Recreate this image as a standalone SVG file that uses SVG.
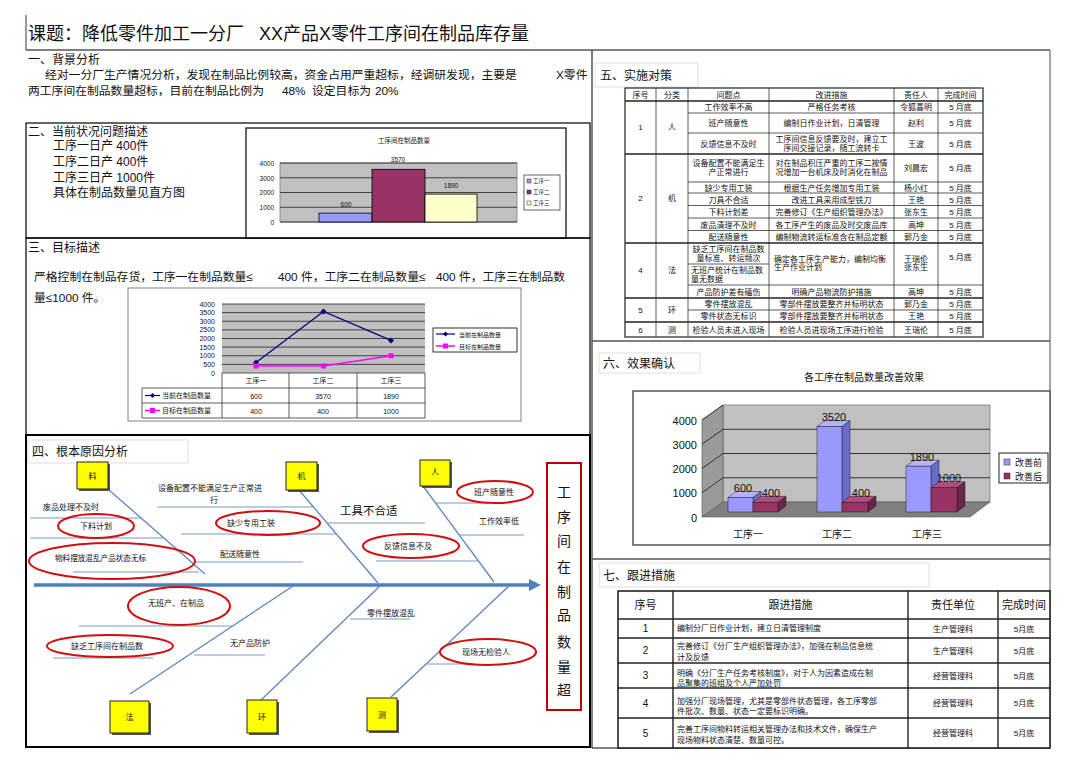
<svg xmlns="http://www.w3.org/2000/svg" width="1080" height="763" viewBox="0 0 1080 763">
<defs>
<style>
text{font-family:"Liberation Sans","Noto Sans CJK SC",sans-serif;fill:#111}
.t12{font-size:12px}
.t11{font-size:11px}
.t10{font-size:10px}
.t8{font-size:8px}
.t7{font-size:7px}
.c{text-anchor:middle}
.r{text-anchor:end}
.box{fill:none;stroke:#000;stroke-width:1.2}
.hd{fill:#fff;stroke:#d8d8d8;stroke-width:0.8}
.bone{stroke:#5a87c0;stroke-width:1.3;fill:none}
.sub{stroke:#7a9cc8;stroke-width:1.2}
.ell{fill:none;stroke:#d01010;stroke-width:2}
.ybox{fill:#ffff00;stroke:#222;stroke-width:1}
.ysh{fill:#555}
.tl{stroke:#333;stroke-width:0.8}
.tg{stroke:#222;stroke-width:1.4}
.grid{stroke:#222;stroke-width:0.8}
</style>
<marker id="ah" viewBox="0 0 12 12" refX="2" refY="6" markerWidth="12" markerHeight="12" markerUnits="userSpaceOnUse" orient="auto">
<path d="M0,0 L12,6 L0,12 z" fill="#4f81bd"/>
</marker>
</defs>
<rect width="1080" height="763" fill="#fff"/>

<g id="title">
<line x1="26" y1="15" x2="26" y2="50" stroke="#555" stroke-width="1.2"/>
<line x1="26" y1="50" x2="1050" y2="50" stroke="#555" stroke-width="1.5"/>
<text x="28" y="40" style="font-size:18px">课题：降低零件加工一分厂</text>
<text x="259" y="40" style="font-size:18px">XX产品X零件工序间在制品库存量</text>
</g>

<g id="sec1">
<text x="28" y="64" class="t12">一、背景分析</text>
<text x="45" y="79" style="font-size:11.8px">经对一分厂生产情况分析，发现在制品比例较高，资金占用严重超标，经调研发现，主要是</text>
<text x="556" y="79" style="font-size:11.8px">X零件</text>
<text x="28" y="95" style="font-size:11.8px">两工序间在制品数量超标，目前在制品比例为</text>
<text x="282" y="95" style="font-size:11.8px">48%</text>
<text x="312" y="95" style="font-size:11.8px">设定目标为</text>
<text x="375" y="95" style="font-size:11.8px">20%</text>
</g>

<g id="sec2">
<rect x="26" y="123" width="564" height="115" class="box"/>
<text x="28" y="136" class="t12">二、当前状况问题描述</text>
<text x="53" y="150" class="t12">工序一日产 400件</text>
<text x="53" y="166" class="t12">工序二日产 400件</text>
<text x="53" y="182" class="t12">工序三日产 1000件</text>
<text x="53" y="197" class="t12">具体在制品数量见直方图</text>
<g id="chart1">
<rect x="246" y="128" width="320" height="110" fill="#fff" stroke="#000" stroke-width="1.2"/>
<text x="404" y="143" class="c" style="font-size:6.5px">工序间在制品数量</text>
<rect x="280" y="163" width="237" height="59" fill="#c0c0c0" stroke="#808080" stroke-width="0.8"/>
<line x1="280" y1="163" x2="517" y2="163" class="grid"/>
<line x1="280" y1="177.75" x2="517" y2="177.75" class="grid"/>
<line x1="280" y1="192.5" x2="517" y2="192.5" class="grid"/>
<line x1="280" y1="207.25" x2="517" y2="207.25" class="grid"/>
<line x1="280" y1="222" x2="517" y2="222" class="grid"/>
<text x="274" y="166" class="r" style="font-size:6.5px">4000</text>
<text x="274" y="180.5" class="r" style="font-size:6.5px">3000</text>
<text x="274" y="195" class="r" style="font-size:6.5px">2000</text>
<text x="274" y="210" class="r" style="font-size:6.5px">1000</text>
<text x="274" y="225" class="r" style="font-size:6.5px">0</text>
<rect x="319" y="213.1" width="53" height="8.9" fill="#9999ff" stroke="#000" stroke-width="0.8"/>
<rect x="372" y="169.3" width="53" height="52.7" fill="#993366" stroke="#000" stroke-width="0.8"/>
<rect x="425" y="194.1" width="52" height="27.9" fill="#ffffcc" stroke="#000" stroke-width="0.8"/>
<text x="346" y="207" class="c" style="font-size:6.5px">600</text>
<text x="398" y="162" class="c" style="font-size:6.5px">3570</text>
<text x="451" y="188" class="c" style="font-size:6.5px">1890</text>
<rect x="524" y="175" width="36" height="35" fill="#fff" stroke="#000" stroke-width="0.6"/>
<rect x="527" y="179" width="4" height="4" fill="#9999ff" stroke="#000" stroke-width="0.4"/>
<rect x="527" y="190" width="4" height="4" fill="#993366" stroke="#000" stroke-width="0.4"/>
<rect x="527" y="201" width="4" height="4" fill="#ffffcc" stroke="#000" stroke-width="0.4"/>
<text x="533" y="183" style="font-size:5.5px">工序一</text>
<text x="533" y="194" style="font-size:5.5px">工序二</text>
<text x="533" y="205" style="font-size:5.5px">工序三</text>
</g>
</g>

<g id="sec3">
<rect x="26" y="238" width="564" height="197" class="box"/>
<text x="28" y="252" class="t12">三、目标描述</text>
<text x="34" y="281" style="font-size:11.8px">严格控制在制品存货，工序一在制品数量≤</text>
<text x="278" y="281" style="font-size:11.8px">400 件，工序二在制品数量≤</text>
<text x="436" y="281" style="font-size:11.8px">400 件，工序三在制品数</text>
<text x="34" y="302" style="font-size:11.8px">量≤1000 件。</text>
<g id="chart2">
<rect x="128" y="288" width="393" height="133" fill="#fff" stroke="#808080" stroke-width="1"/>
<rect x="222" y="304" width="203" height="69" fill="#c0c0c0"/>
<g class="grid">
<line x1="222" y1="304" x2="425" y2="304"/>
<line x1="222" y1="312.6" x2="425" y2="312.6"/>
<line x1="222" y1="321.25" x2="425" y2="321.25"/>
<line x1="222" y1="329.9" x2="425" y2="329.9"/>
<line x1="222" y1="338.5" x2="425" y2="338.5"/>
<line x1="222" y1="347.1" x2="425" y2="347.1"/>
<line x1="222" y1="355.75" x2="425" y2="355.75"/>
<line x1="222" y1="364.4" x2="425" y2="364.4"/>
</g>
<text x="215" y="306.5" class="r" style="font-size:7px">4000</text>
<text x="215" y="315" class="r" style="font-size:7px">3500</text>
<text x="215" y="323.7" class="r" style="font-size:7px">3000</text>
<text x="215" y="332.4" class="r" style="font-size:7px">2500</text>
<text x="215" y="341" class="r" style="font-size:7px">2000</text>
<text x="215" y="349.6" class="r" style="font-size:7px">1500</text>
<text x="215" y="358.2" class="r" style="font-size:7px">1000</text>
<text x="215" y="366.9" class="r" style="font-size:7px">500</text>
<text x="215" y="375.5" class="r" style="font-size:7px">0</text>
<polyline points="256,362.6 323.5,311.4 391,340.4" fill="none" stroke="#000080" stroke-width="1.2"/>
<polyline points="256,366.1 323.5,366.1 391,355.75" fill="none" stroke="#ff00ff" stroke-width="1.5"/>
<path d="M256,359.6 l3,3 l-3,3 l-3,-3 z M323.5,308.4 l3,3 l-3,3 l-3,-3 z M391,337.4 l3,3 l-3,3 l-3,-3 z" fill="#000080"/>
<path d="M253.5,363.6 h5 v5 h-5 z M321,363.6 h5 v5 h-5 z M388.5,353.25 h5 v5 h-5 z" fill="#ff00ff"/>
<g class="tl">
<line x1="222" y1="373" x2="425" y2="373"/>
<line x1="142" y1="388" x2="425" y2="388"/>
<line x1="142" y1="403" x2="425" y2="403"/>
<line x1="142" y1="418" x2="425" y2="418"/>
<line x1="142" y1="388" x2="142" y2="418"/>
<line x1="222" y1="373" x2="222" y2="418"/>
<line x1="289" y1="373" x2="289" y2="418"/>
<line x1="357" y1="373" x2="357" y2="418"/>
<line x1="425" y1="373" x2="425" y2="418"/>
</g>
<text x="256" y="383" class="c t7">工序一</text>
<text x="323" y="383" class="c t7">工序二</text>
<text x="391" y="383" class="c t7">工序三</text>
<line x1="145" y1="395.5" x2="160" y2="395.5" stroke="#000080" stroke-width="1.2"/>
<path d="M152.5,393 l2.5,2.5 l-2.5,2.5 l-2.5,-2.5 z" fill="#000080"/>
<text x="162" y="398" class="t7">当前在制品数量</text>
<line x1="145" y1="410.5" x2="160" y2="410.5" stroke="#ff00ff" stroke-width="1.5"/>
<rect x="150" y="408" width="5" height="5" fill="#ff00ff"/>
<text x="162" y="413" class="t7">目标在制品数量</text>
<text x="256" y="398.5" class="c t7">600</text>
<text x="323" y="398.5" class="c t7">3570</text>
<text x="391" y="398.5" class="c t7">1890</text>
<text x="256" y="413.5" class="c t7">400</text>
<text x="323" y="413.5" class="c t7">400</text>
<text x="391" y="413.5" class="c t7">1000</text>
<rect x="433" y="328" width="84" height="24" fill="#fff" stroke="#000" stroke-width="0.8"/>
<line x1="436" y1="334" x2="455" y2="334" stroke="#000080" stroke-width="1.2"/>
<path d="M445.5,331.5 l2.5,2.5 l-2.5,2.5 l-2.5,-2.5 z" fill="#000080"/>
<text x="459" y="336.5" style="font-size:6px">当前在制品数量</text>
<line x1="436" y1="346" x2="455" y2="346" stroke="#ff00ff" stroke-width="1.5"/>
<rect x="443" y="343.5" width="5" height="5" fill="#ff00ff"/>
<text x="459" y="348.5" style="font-size:6px">目标在制品数量</text>
</g>
</g>

<g id="sec4">
<rect x="26" y="435" width="564" height="312" fill="none" stroke="#000" stroke-width="2"/>
<rect x="28" y="440" width="160" height="23" class="hd"/>
<text x="32" y="456" class="t12">四、根本原因分析</text>
</g>

<g id="connectors">
<line x1="34" y1="585" x2="531" y2="585" stroke="#4f81bd" stroke-width="3.5" marker-end="url(#ah)"/>
<line x1="109" y1="490" x2="205" y2="574" class="bone"/>
<line x1="299" y1="490" x2="378" y2="583" class="bone"/>
<line x1="423" y1="486" x2="494" y2="582" class="bone"/>
<line x1="130" y1="694" x2="293" y2="586" class="bone"/>
<line x1="261" y1="700" x2="380" y2="586" class="bone"/>
<line x1="391" y1="697" x2="509" y2="586" class="bone"/>
<g class="sub">
<line x1="30" y1="518" x2="141" y2="518"/>
<line x1="30" y1="538" x2="164" y2="538"/>
<line x1="73" y1="572" x2="199" y2="572"/>
<line x1="157" y1="507" x2="313" y2="507"/>
<line x1="181" y1="534" x2="336" y2="534"/>
<line x1="195" y1="562" x2="303" y2="562"/>
<line x1="327" y1="523" x2="425" y2="523"/>
<line x1="436" y1="503" x2="489" y2="503"/>
<line x1="459" y1="535" x2="524" y2="535"/>
<line x1="376" y1="561" x2="479" y2="561"/>
<line x1="79" y1="626" x2="232" y2="626"/>
<line x1="53" y1="658" x2="153" y2="658"/>
<line x1="194" y1="655" x2="265" y2="655"/>
<line x1="350" y1="619" x2="410" y2="619"/>
<line x1="427" y1="664" x2="473" y2="664"/>
</g>
</g>

<g id="node-liao"><rect x="79" y="464" width="31" height="27" class="ysh"/><rect x="77" y="462" width="31" height="27" class="ybox"/><text x="92.5" y="479" class="c t8">料</text></g>
<g id="node-ji"><rect x="288" y="464" width="31" height="28" class="ysh"/><rect x="286" y="462" width="31" height="28" class="ybox"/><text x="301.5" y="479" class="c t8">机</text></g>
<g id="node-ren"><rect x="422" y="462" width="30" height="26" class="ysh"/><rect x="420" y="460" width="30" height="26" class="ybox"/><text x="435" y="475" class="c t8">人</text></g>
<g id="node-fa"><rect x="112" y="703" width="39" height="32" class="ysh"/><rect x="110" y="701" width="39" height="32" class="ybox"/><text x="129.5" y="720" class="c t8">法</text></g>
<g id="node-huan"><rect x="249" y="702" width="30" height="33" class="ysh"/><rect x="247" y="700" width="30" height="33" class="ybox"/><text x="262" y="720" class="c t8">环</text></g>
<g id="node-ce"><rect x="369" y="700" width="30" height="33" class="ysh"/><rect x="367" y="698" width="30" height="33" class="ybox"/><text x="382" y="718" class="c t8">测</text></g>

<g id="node-effect">
<rect x="547" y="463" width="34" height="247" fill="#fff" stroke="#c00000" stroke-width="2"/>
<text x="564" y="497" class="c" style="font-size:14px">工</text>
<text x="564" y="522" class="c" style="font-size:14px">序</text>
<text x="564" y="546" class="c" style="font-size:14px">间</text>
<text x="564" y="572" class="c" style="font-size:14px">在</text>
<text x="564" y="597" class="c" style="font-size:14px">制</text>
<text x="564" y="620" class="c" style="font-size:14px">品</text>
<text x="564" y="647" class="c" style="font-size:14px">数</text>
<text x="564" y="672" class="c" style="font-size:14px">量</text>
<text x="564" y="695" class="c" style="font-size:14px">超</text>
</g>

<g id="causes">
<text x="43" y="510" class="t8">废品处理不及时</text>
<g id="c-xialiao"><ellipse cx="96" cy="526" rx="38" ry="12" class="ell"/><text x="96" y="529" class="c t8">下料计划</text></g>
<g id="c-wuliao"><ellipse cx="112" cy="561" rx="83" ry="18" class="ell"/><text x="55" y="561" style="font-size:7.6px">物料摆放混乱产品状态无标</text></g>
<text x="158" y="491" class="t8">设备配置不能满足生产正常进</text>
<text x="210" y="503" class="t8">行</text>
<g id="c-quegz"><ellipse cx="268" cy="523" rx="52" ry="12" class="ell"/><text x="227" y="526" class="t8">缺少专用工装</text></g>
<text x="220" y="557" class="t8">配送随意性</text>
<text x="340" y="515" style="font-size:11.5px">工具不合适</text>
<g id="c-banchan"><ellipse cx="495" cy="492" rx="38" ry="11" class="ell"/><text x="474" y="495" class="t8">班产随意性</text></g>
<text x="479" y="524" class="t8">工作效率低</text>
<g id="c-fankui"><ellipse cx="411" cy="546" rx="48" ry="12" class="ell"/><text x="384" y="549" class="t8">反馈信息不及</text></g>
<g id="c-wubc"><ellipse cx="179" cy="606" rx="51" ry="19" class="ell"/><text x="148" y="606" class="t8">无班产、在制品</text></g>
<g id="c-quefa"><ellipse cx="110" cy="646" rx="63" ry="11" class="ell"/><text x="71" y="649" class="t8">缺乏工序间在制品数</text></g>
<text x="230" y="646" class="t8">无产品防护</text>
<text x="367" y="616" class="t8">零件摆放混乱</text>
<g id="c-xianchang"><ellipse cx="488" cy="652" rx="48" ry="13" class="ell"/><text x="462" y="655" class="t8">现场无检验人</text></g>
</g>

<g id="rightframe">
<line x1="592" y1="50" x2="592" y2="748" stroke="#555" stroke-width="1.5"/>
<line x1="1050" y1="50" x2="1050" y2="748" stroke="#888" stroke-width="1.5"/>
<line x1="592" y1="341" x2="1050" y2="341" stroke="#555" stroke-width="1.5"/>
<line x1="592" y1="559" x2="1050" y2="559" stroke="#555" stroke-width="1.5"/>
<line x1="592" y1="748" x2="1050" y2="748" stroke="#555" stroke-width="1.5"/>
</g>

<g id="sec5">
<rect x="595" y="63" width="103" height="24" class="hd"/>
<text x="600" y="80" class="t12">五、实施对策</text>
<g id="table5">
<rect x="625" y="88" width="358" height="249" fill="#fff" stroke="#222" stroke-width="1.2"/>
<g class="tl">
<line x1="656" y1="88" x2="656" y2="337"/>
<line x1="688" y1="88" x2="688" y2="337"/>
<line x1="769" y1="88" x2="769" y2="337"/>
<line x1="894" y1="88" x2="894" y2="337"/>
<line x1="938" y1="88" x2="938" y2="337"/>
<line x1="688" y1="113" x2="983" y2="113"/>
<line x1="688" y1="133" x2="983" y2="133"/>
<line x1="688" y1="182" x2="983" y2="182"/>
<line x1="688" y1="193" x2="983" y2="193"/>
<line x1="688" y1="205.5" x2="983" y2="205.5"/>
<line x1="688" y1="218" x2="983" y2="218"/>
<line x1="688" y1="230.5" x2="983" y2="230.5"/>
<line x1="688" y1="264" x2="769" y2="264"/>
<line x1="688" y1="285" x2="983" y2="285"/>
<line x1="688" y1="310" x2="983" y2="310"/>
</g>
<g class="tg">
<line x1="625" y1="101" x2="983" y2="101"/>
<line x1="625" y1="154" x2="983" y2="154"/>
<line x1="625" y1="243" x2="983" y2="243"/>
<line x1="625" y1="298" x2="983" y2="298"/>
<line x1="625" y1="322" x2="983" y2="322"/>
</g>
<text x="640.5" y="97.5" class="c t8">序号</text>
<text x="672" y="97.5" class="c t8">分类</text>
<text x="728.5" y="97.5" class="c t8">问题点</text>
<text x="831.5" y="97.5" class="c t8">改进措施</text>
<text x="916" y="97.5" class="c t8">责任人</text>
<text x="960.5" y="97.5" class="c t8">完成时间</text>

<text x="640.5" y="130" class="c t8">1</text>
<text x="672" y="130" class="c t8">人</text>
<text x="640.5" y="201" class="c t8">2</text>
<text x="672" y="201" class="c t8">机</text>
<text x="640.5" y="273" class="c t8">4</text>
<text x="672" y="273" class="c t8">法</text>
<text x="640.5" y="313" class="c t8">5</text>
<text x="672" y="313" class="c t8">环</text>
<text x="640.5" y="333" class="c t8">6</text>
<text x="672" y="333" class="c t8">测</text>

<text x="728.5" y="110" class="c t8">工作效率不高</text>
<text x="831.5" y="110" class="c t8">严格任务考核</text>
<text x="916" y="110" class="c t8">令狐喜明</text>
<text x="960.5" y="110" class="c t8">5 月底</text>

<text x="728.5" y="126" class="c t8">班产随意性</text>
<text x="831.5" y="126" class="c t8">编制日作业计划，日清管理</text>
<text x="916" y="126" class="c t8">赵利</text>
<text x="960.5" y="126" class="c t8">5 月底</text>

<text x="728.5" y="146.5" class="c t8">反馈信息不及时</text>
<text x="831.5" y="142" class="c t8">工序间信息反馈要及时，建立工</text>
<text x="831.5" y="151" class="c t8">序间交接记录，随工流转卡</text>
<text x="916" y="146.5" class="c t8">王波</text>
<text x="960.5" y="146.5" class="c t8">5 月底</text>

<text x="728.5" y="166" class="c t8">设备配置不能满足生</text>
<text x="728.5" y="175" class="c t8">产正常进行</text>
<text x="831.5" y="166" class="c t8">对在制品积压严重的工序二按情</text>
<text x="831.5" y="175" class="c t8">况增加一台机床及时消化在制品</text>
<text x="916" y="171" class="c t8">刘晨宏</text>
<text x="960.5" y="171" class="c t8">5 月底</text>

<text x="728.5" y="190.5" class="c t8">缺少专用工装</text>
<text x="831.5" y="190.5" class="c t8">根据生产任务增加专用工装</text>
<text x="916" y="190.5" class="c t8">杨小红</text>
<text x="960.5" y="190.5" class="c t8">5 月底</text>

<text x="728.5" y="202.5" class="c t8">刀具不合适</text>
<text x="831.5" y="202.5" class="c t8">改进工具采用成型铣刀</text>
<text x="916" y="202.5" class="c t8">王艳</text>
<text x="960.5" y="202.5" class="c t8">5 月底</text>

<text x="728.5" y="215" class="c t8">下料计划差</text>
<text x="831.5" y="215" class="c t8">完善修订《生产组织管理办法》</text>
<text x="916" y="215" class="c t8">张东生</text>
<text x="960.5" y="215" class="c t8">5 月底</text>

<text x="728.5" y="227.5" class="c t8">废品清理不及时</text>
<text x="831.5" y="227.5" class="c t8">各工序产生的废品及时交废品库</text>
<text x="916" y="227.5" class="c t8">高坤</text>
<text x="960.5" y="227.5" class="c t8">5 月底</text>

<text x="728.5" y="240" class="c t8">配送随意性</text>
<text x="831.5" y="240" class="c t8">编制物流转运标准含在制品定额</text>
<text x="916" y="240" class="c t8">郭乃金</text>
<text x="960.5" y="240" class="c t8">5 月底</text>

<text x="728.5" y="252" class="c t8">缺乏工序间在制品数</text>
<text x="728.5" y="261" class="c t8">量标准、转运频次</text>
<text x="691" y="273" class="t8">无班产统计在制品数</text>
<text x="691" y="282" class="t8">量无数据</text>
<text x="774" y="262" class="t8">确定各工序生产能力，编制均衡</text>
<text x="774" y="270" class="t8">生产作业计划</text>
<text x="916" y="262" class="c t8">王瑞伦</text>
<text x="916" y="270" class="c t8">张东生</text>
<text x="960.5" y="260" class="c t8">5 月底</text>

<text x="728.5" y="294.5" class="c t8">产品防护差有磕伤</text>
<text x="831.5" y="294.5" class="c t8">明确产品物流防护措施</text>
<text x="916" y="294.5" class="c t8">高坤</text>
<text x="960.5" y="294.5" class="c t8">5 月底</text>

<text x="728.5" y="307" class="c t8">零件摆放混乱</text>
<text x="831.5" y="307" class="c t8">零部件摆放要整齐并标明状态</text>
<text x="916" y="307" class="c t8">郭乃金</text>
<text x="960.5" y="307" class="c t8">5 月底</text>

<text x="728.5" y="319" class="c t8">零件状态无标识</text>
<text x="831.5" y="319" class="c t8">零部件摆放要整齐并标明状态</text>
<text x="916" y="319" class="c t8">王艳</text>
<text x="960.5" y="319" class="c t8">5 月底</text>

<text x="728.5" y="333" class="c t8">检验人员未进入现场</text>
<text x="831.5" y="333" class="c t8">检验人员进现场工序进行检验</text>
<text x="916" y="333" class="c t8">王瑞伦</text>
<text x="960.5" y="333" class="c t8">5 月底</text>
</g>
</g>

<g id="sec6">
<rect x="599" y="353" width="101" height="20" class="hd"/>
<text x="603" y="368" class="t12">六、效果确认</text>
<text x="864" y="381" class="c t10">各工序在制品数量改善效果</text>
<g id="chart6">
<rect x="633" y="391" width="417" height="154" fill="#fff" stroke="#555" stroke-width="1.5"/>
<polygon points="723,405 990,405 990,502 723,502" fill="#c0c0c0" stroke="#555" stroke-width="0.6"/>
<polygon points="702,420 723,405 723,502 702,517" fill="#9a9a9a" stroke="#555" stroke-width="0.6"/>
<polygon points="702,517 723,502 990,502 970,517" fill="#808080" stroke="#555" stroke-width="0.6"/>
<g stroke="#333" stroke-width="1">
<line x1="723" y1="429.25" x2="990" y2="429.25"/>
<line x1="723" y1="453.5" x2="990" y2="453.5"/>
<line x1="723" y1="477.75" x2="990" y2="477.75"/>
<line x1="702" y1="444.25" x2="723" y2="429.25"/>
<line x1="702" y1="468.5" x2="723" y2="453.5"/>
<line x1="702" y1="492.75" x2="723" y2="477.75"/>
<line x1="702" y1="420" x2="723" y2="405"/>
</g>
<text x="697" y="425" class="r t11">4000</text>
<text x="697" y="449" class="r t11">3000</text>
<text x="697" y="473" class="r t11">2000</text>
<text x="697" y="497" class="r t11">1000</text>
<text x="697" y="522" class="r t11">0</text>
<g stroke="#222" stroke-width="0.5">
<polygon points="728,497.5 736,491.5 761,491.5 753,497.5" fill="#b3b3ff"/>
<polygon points="753,497.5 761,491.5 761,506 753,512" fill="#6b6bcc"/>
<rect x="728" y="497.5" width="25" height="14.5" fill="#9999ff"/>
<polygon points="753,502.3 761,496.3 786,496.3 778,502.3" fill="#b34d80"/>
<polygon points="778,502.3 786,496.3 786,506 778,512" fill="#6b2447"/>
<rect x="753" y="502.3" width="25" height="9.7" fill="#993366"/>
<polygon points="817,426.6 825,420.6 850,420.6 842,426.6" fill="#b3b3ff"/>
<polygon points="842,426.6 850,420.6 850,506 842,512" fill="#6b6bcc"/>
<rect x="817" y="426.6" width="25" height="85.4" fill="#9999ff"/>
<polygon points="842,502.3 850,496.3 876,496.3 868,502.3" fill="#b34d80"/>
<polygon points="868,502.3 876,496.3 876,506 868,512" fill="#6b2447"/>
<rect x="842" y="502.3" width="26" height="9.7" fill="#993366"/>
<polygon points="906,466.2 914,460.2 939,460.2 931,466.2" fill="#b3b3ff"/>
<polygon points="931,466.2 939,460.2 939,506 931,512" fill="#6b6bcc"/>
<rect x="906" y="466.2" width="25" height="45.8" fill="#9999ff"/>
<polygon points="931,487.75 939,481.75 965,481.75 957,487.75" fill="#b34d80"/>
<polygon points="957,487.75 965,481.75 965,506 957,512" fill="#6b2447"/>
<rect x="931" y="487.75" width="26" height="24.25" fill="#993366"/>
</g>
<text x="743" y="492" class="c t11">600</text>
<text x="771" y="497" class="c t11">400</text>
<text x="834" y="421" class="c t11">3520</text>
<text x="861" y="497" class="c t11">400</text>
<text x="922" y="461" class="c t11">1890</text>
<text x="949" y="482" class="c t11">1000</text>
<text x="748" y="538" class="c t10">工序一</text>
<text x="837" y="538" class="c t10">工序二</text>
<text x="927" y="538" class="c t10">工序三</text>
<rect x="999" y="453" width="49" height="30" fill="#fff" stroke="#222" stroke-width="1"/>
<rect x="1004" y="459" width="6" height="6" fill="#9999ff" stroke="#222" stroke-width="0.5"/>
<rect x="1004" y="473" width="6" height="6" fill="#993366" stroke="#222" stroke-width="0.5"/>
<text x="1015" y="465.5" style="font-size:9px">改善前</text>
<text x="1015" y="479.5" style="font-size:9px">改善后</text>
</g>
</g>

<g id="sec7">
<rect x="599" y="563" width="330" height="24" class="hd"/>
<text x="603" y="580" class="t12">七、跟进措施</text>
<g id="table7">
<rect x="618" y="591" width="432" height="157" fill="#fff" stroke="#222" stroke-width="1.6"/>
<g stroke="#222" stroke-width="1.4">
<line x1="673" y1="591" x2="673" y2="748"/>
<line x1="908" y1="591" x2="908" y2="748"/>
<line x1="998" y1="591" x2="998" y2="748"/>
<line x1="618" y1="619" x2="1050" y2="619"/>
<line x1="618" y1="638" x2="1050" y2="638"/>
<line x1="618" y1="663" x2="1050" y2="663"/>
<line x1="618" y1="688" x2="1050" y2="688"/>
<line x1="618" y1="718" x2="1050" y2="718"/>
</g>
<text x="645.5" y="609" class="c t11">序号</text>
<text x="790.5" y="609" class="c t11">跟进措施</text>
<text x="953" y="609" class="c t11">责任单位</text>
<text x="1024" y="609" class="c t11">完成时间</text>

<text x="645.5" y="632" class="c t10">1</text>
<text x="677" y="631" class="t8">编制分厂日作业计划，建立日清管理制度</text>
<text x="953" y="631.5" class="c t8">生产管理科</text>
<text x="1024" y="631.5" class="c t8">5月底</text>

<text x="645.5" y="654" class="c t10">2</text>
<text x="677" y="649" class="t8">完善修订《分厂生产组织管理办法》，加强在制品信息统</text>
<text x="677" y="660" class="t8">计及反馈</text>
<text x="953" y="653.5" class="c t8">生产管理科</text>
<text x="1024" y="653.5" class="c t8">5月底</text>

<text x="645.5" y="679" class="c t10">3</text>
<text x="677" y="676" class="t8">明确《分厂生产任务考核制度》，对于人为因素造成在制</text>
<text x="677" y="686" class="t8">品聚集的班组及个人严加处罚</text>
<text x="953" y="679" class="c t8">经营管理科</text>
<text x="1024" y="679" class="c t8">5月底</text>

<text x="645.5" y="707" class="c t10">4</text>
<text x="677" y="704" class="t8">加强分厂现场管理，尤其是零部件状态管理，各工序零部</text>
<text x="677" y="714" class="t8">件批次、数量、状态一定要标识明确。</text>
<text x="953" y="706" class="c t8">经营管理科</text>
<text x="1024" y="706" class="c t8">5月底</text>

<text x="645.5" y="737" class="c t10">5</text>
<text x="677" y="732" class="t8">完善工序间物料转运相关管理办法和技术文件，确保生产</text>
<text x="677" y="743" class="t8">现场物料状态清楚、数量可控。</text>
<text x="953" y="736" class="c t8">经营管理科</text>
<text x="1024" y="736" class="c t8">5月底</text>
</g>
</g>
</svg>
